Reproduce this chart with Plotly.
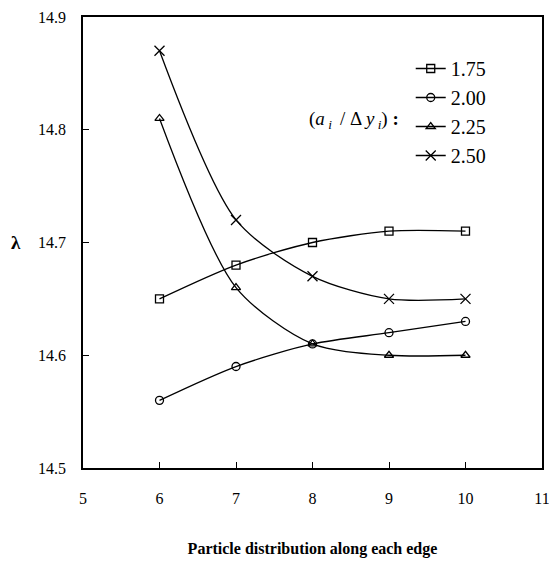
import plotly.graph_objects as go

x_vals = [6, 7, 8, 9, 10]
series_names = ["1.75", "2.00", "2.25", "2.50"]
s175 = [14.65, 14.68, 14.70, 14.71, 14.71]
s200 = [14.56, 14.59, 14.61, 14.62, 14.63]
s225 = [14.81, 14.66, 14.61, 14.60, 14.60]
s250 = [14.87, 14.72, 14.67, 14.65, 14.65]
x_ticks = [5, 6, 7, 8, 9, 10, 11]
y_ticks = [14.5, 14.6, 14.7, 14.8, 14.9]

symbols = ["square-open", "circle-open", "triangle-up-open", "x-thin-open"]
sizes = [8, 8, 8, 10]
FONT = "Liberation Serif"

fig = go.Figure()
for name, ys, sym, sz in zip(series_names, [s175, s200, s225, s250], symbols, sizes):
    fig.add_trace(go.Scatter(
        x=x_vals, y=ys, name=name, mode="lines+markers",
        line=dict(color="black", width=1.3, shape="spline", smoothing=0.8),
        marker=dict(symbol=sym, size=sz, color="black",
                    line=dict(color="black", width=1.3)),
    ))

fig.update_layout(
    width=549, height=561,
    margin=dict(l=83, r=7, t=17, b=93),
    paper_bgcolor="white", plot_bgcolor="white",
    font=dict(family=FONT, size=16, color="black"),
    showlegend=True,
    legend=dict(x=0.714, y=0.929, xanchor="left", yanchor="top",
                bgcolor="rgba(0,0,0,0)", font=dict(size=20, family=FONT),
                itemwidth=30),
    xaxis=dict(range=[5, 11], tickvals=x_ticks, ticks="inside", ticklen=6,
               showline=True, linecolor="black", linewidth=1.5, mirror=True,
               showgrid=False, zeroline=False, tickcolor="black", automargin=False,
               ticklabeloverflow="allow",
               tickfont=dict(size=16, family=FONT), ticklabelstandoff=15,
               title=dict(text="<b>Particle distribution along each edge</b>",
                          font=dict(size=16, family=FONT), standoff=37)),
    yaxis=dict(range=[14.5, 14.9], tickvals=y_ticks, tickformat=".1f",
               ticks="inside", ticklen=6, automargin=False,
               ticklabeloverflow="allow",
               showline=True, linecolor="black", linewidth=1.5, mirror=True,
               showgrid=False, zeroline=False, tickcolor="black",
               tickfont=dict(size=16, family=FONT), ticklabelstandoff=12),
)

fig.add_annotation(xref="paper", yref="paper", x=0.0 - 0.146, y=0.5,
                   text="<b>λ</b>", showarrow=False,
                   font=dict(size=19, family=FONT), xanchor="center", yanchor="middle")
fig.add_annotation(xref="paper", yref="paper", x=0.692, y=0.771,
                   text="(<i>a</i><sub> <i>i</i> </sub> / Δ <i>y</i><sub> <i>i</i></sub>) <b>:</b>",
                   showarrow=False, font=dict(size=19, family=FONT),
                   xanchor="right", yanchor="middle")

fig.write_html("out.html", config={"displayModeBar": False},
               post_script="document.body.style.margin='0';document.body.style.overflow='hidden';")
